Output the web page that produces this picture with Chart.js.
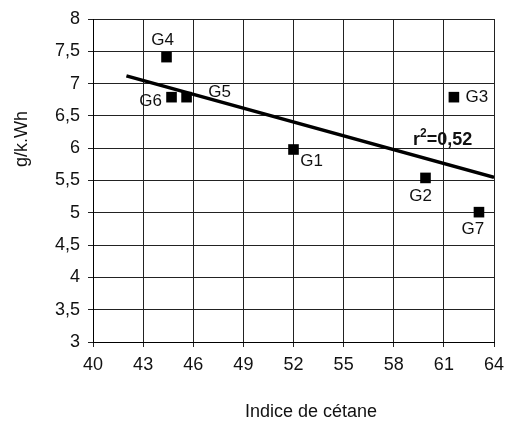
<!DOCTYPE html>
<html>
<head>
<meta charset="utf-8">
<script src="https://cdn.jsdelivr.net/npm/chart.js@4"></script>
<style>
  html, body { margin: 0; padding: 0; background: #fff; }
  #wrap { width: 506px; height: 423px; }
</style>
</head>
<body>
<div id="wrap"><canvas id="c" width="506" height="423"></canvas></div>
<script>
// fuels G1..G7: cetane index vs g/kWh
const groupLabels = ['G1', 'G2', 'G3', 'G4', 'G5', 'G6', 'G7']
const cetane = [52.0, 59.9, 61.6, 44.4, 45.6, 44.7, 63.1]
const emission = [5.98, 5.54, 6.79, 7.41, 6.79, 6.79, 5.01]

// regression line ends (r² = 0,52)
const trendX = [42, 64]
const trendY = [7.12, 5.55]
const r2Text = '0,52'

const xTicks = { min: 40, max: 64, step: 3 }
const yTicks = { min: 3, max: 8, step: 0.5 }

// label offsets in px from the point centre
const labelOffsets = {
    G1: [18, 12], G2: [-5, 18], G3: [23, 0], G4: [-4, -17],
    G5: [33, -5], G6: [-21, 4], G7: [-6, 17]
}

const FONT = '"Liberation Sans", Arial, Helvetica, sans-serif'
const INK = '#111'
const comma = v => String(v).replace('.', ',')

const annotate = {
    id: 'annotate',
    afterDatasetsDraw(chart) {
        const { ctx } = chart
        const meta = chart.getDatasetMeta(0)
        ctx.save()
        ctx.fillStyle = INK
        ctx.font = '17px ' + FONT
        ctx.textAlign = 'center'
        ctx.textBaseline = 'middle'
        meta.data.forEach((pt, i) => {
            const off = labelOffsets[groupLabels[i]]
            ctx.fillText(groupLabels[i], pt.x + off[0], pt.y + off[1])
        })

        // r² label
        let x = 413, y = 140
        ctx.textAlign = 'left'
        ctx.font = 'bold 18px ' + FONT
        ctx.fillText('r', x, y)
        x += ctx.measureText('r').width
        ctx.font = 'bold 12px ' + FONT
        ctx.fillText('2', x, y - 6)
        x += ctx.measureText('2').width
        ctx.font = 'bold 18px ' + FONT
        ctx.fillText('=' + r2Text, x, y)

        // axis titles
        ctx.font = '18px ' + FONT
        ctx.textAlign = 'center'
        ctx.fillText('Indice de cétane', 311, 412)
        ctx.translate(22, 139)
        ctx.rotate(-Math.PI / 2)
        ctx.fillText('g/k.Wh', 0, 0)
        ctx.restore()
    }
}

new Chart(document.getElementById('c'), {
    type: 'scatter',
    data: {
        datasets: [
            {
                data: cetane.map((x, i) => ({ x, y: emission[i] })),
                pointStyle: 'rect',
                pointRadius: 7.5,
                pointBorderWidth: 0,
                backgroundColor: '#000',
                borderColor: '#000'
            },
            {
                type: 'line',
                data: trendX.map((x, i) => ({ x, y: trendY[i] })),
                borderColor: '#000',
                borderWidth: 3.5,
                pointRadius: 0,
                fill: false
            }
        ]
    },
    options: {
        responsive: false,
        animation: false,
        layout: { padding: { left: 0, right: 12, top: 19, bottom: 0 } },
        plugins: { legend: { display: false }, tooltip: { enabled: false } },
        scales: {
            x: {
                type: 'linear',
                min: xTicks.min, max: xTicks.max,
                afterFit: s => { s.height = 81; s.paddingRight = 0; s.paddingLeft = 0 },
                ticks: { stepSize: xTicks.step, color: INK, font: { family: FONT, size: 18 }, padding: 7, maxRotation: 0 },
                grid: { color: '#222', lineWidth: 1, tickLength: 5 },
                border: { color: '#000', width: 1 }
            },
            y: {
                min: yTicks.min, max: yTicks.max,
                afterFit: s => { s.width = 93; s.paddingTop = 0; s.paddingBottom = 0 },
                ticks: { stepSize: yTicks.step, color: INK, font: { family: FONT, size: 18 }, padding: 8, callback: comma },
                grid: { color: '#222', lineWidth: 1, tickLength: 5 },
                border: { color: '#000', width: 1 }
            }
        }
    },
    plugins: [annotate]
})
</script>
</body>
</html>
